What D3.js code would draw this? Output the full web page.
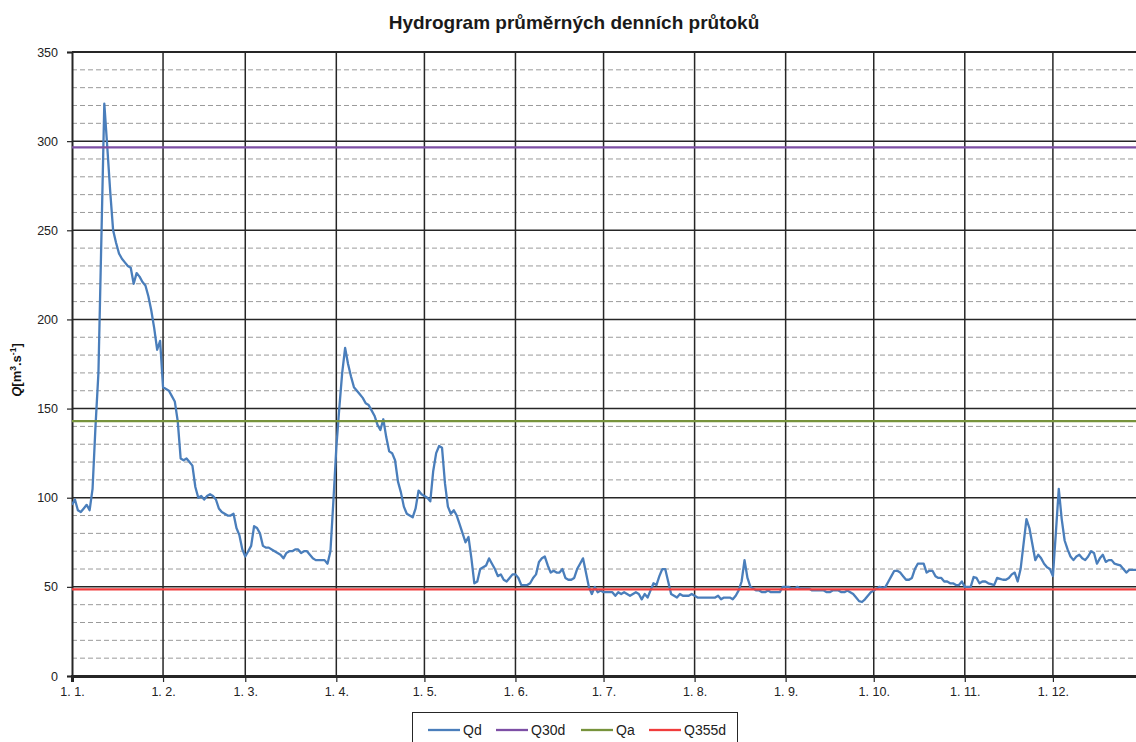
<!DOCTYPE html>
<html><head><meta charset="utf-8">
<script src="https://cdn.jsdelivr.net/npm/d3@7/dist/d3.min.js"></script>
<style>
html,body{margin:0;padding:0;background:#fff;}
svg{display:block;}
</style></head>
<body>
<svg id="chart" width="1136" height="742"></svg>
<script>
// ---- data (daily mean discharge, m3/s, day 0 = 1 Jan) ----
const qdJan = [96,99,93,92,94,96,93,105,140,170,245,321,297,272,250,243,237,234,232,230,229,220,226,224,221,219,213,205,195,183,188];
const qdFeb = [162,161,160,157,154,143,122,121,122,120,118,106,100,101,99,101,102,101,99,94,92,91,90,90,91,83,79,71];
const qdMar = [67,70,73,84,83,80,73,72,72,71,70,69,68,66,69,70,70,71,71,69,70,70,68,66,65,65,65,65,63,70,98];
const qdApr = [128,150,170,184,175,168,162,160,158,156,153,152,149,146,141,138,144,134,126,125,121,109,103,95,91,90,89,94,104,102];
const qdMay = [101,100,98,115,125,129,128,108,95,91,93,90,85,80,75,78,66,52,53,60,61,62,66,63,60,56,57,54,53,55,57];
const qdJun = [57,55,51,51,51,52,55,57,64,66,67,62,58,59,58,58,60,55,54,54,55,60,63,66,58,50,46,50,47,48];
const qdJul = [47,47,47,47,45,47,46,47,46,45,46,47,46,43,46,44,48,52,51,56,60,60,53,46,45,44,46,45,45,45,46];
const qdAug = [45,44,44,44,44,44,44,44,45,43,44,44,44,43,45,48,53,65,55,50,49,48,48,47,47,48,47,47,47,47,50];
const qdSep = [50,50,49,49,50,49,49,49,49,48,48,48,48,48,47,47,48,48,48,47,47,48,47,46,44,42,41.5,43,45,47];
const qdOct = [48,49,50,49.5,50,53,56,59,59,58,56,54,54,55,60,63,63,63,58,59,59,56,55,55,53,53,52,52,51,51,53];
const qdNov = [50,50,50,55.5,55,52,53,53,52,51.5,51,55,54.5,54,54,55,57,58,53,60,74,88,83,74,65,68,66,63,61,60];
const qdDec = [56,80,105,88,76,71,67,65,67,68,66,65,67,70,69,63,66,68,64,65,65,63,62.5,62,60,58,59.5,59.5,59.5,59.5,59.5];

const q30d = 296.5;
const qa = 143;
const q355d = 48.6;

const monthLabels = ["1. 1.","1. 2.","1. 3.","1. 4.","1. 5.","1. 6.","1. 7.","1. 8.","1. 9.","1. 10.","1. 11.","1. 12."];
const monthStartDays = [0,31,59,90,120,151,181,212,243,273,304,334];
const yMajorTicks = [0,50,100,150,200,250,300,350];
const yMinorTicks = d3.range(10, 350, 10).filter(v => v % 50 !== 0);
const seriesNames = ["Qd","Q30d","Qa","Q355d"];
const seriesColors = ["#4A7EBB","#7D4FA5","#77933C","#F03C3C"];

const qd = [].concat(qdJan,qdFeb,qdMar,qdApr,qdMay,qdJun,qdJul,qdAug,qdSep,qdOct,qdNov,qdDec);

// ---- layout ----
const svg = d3.select("#chart");
const pL = 72, pT = 52, pB = 676, pR = 1141;
const x = d3.scaleLinear().domain([0, 364]).range([pL, pR]);
const y = d3.scaleLinear().domain([0, 350]).range([pB, pT]);

svg.append("rect").attr("width",1136).attr("height",742).attr("fill","#fff");

// title
svg.append("text").attr("x",574).attr("y",28.5).attr("text-anchor","middle")
  .attr("font-family","Liberation Sans, Arial, sans-serif").attr("font-weight","bold")
  .attr("font-size","19px").attr("fill","#1a1a1a").text("Hydrogram průměrných denních průtoků");

const g = svg.append("g");

// minor dashed gridlines
g.selectAll("line.minor").data(yMinorTicks).enter().append("line")
  .attr("x1",pL).attr("x2",pR).attr("y1",d=>y(d)).attr("y2",d=>y(d))
  .attr("stroke","#9a9a9a").attr("stroke-width",1).attr("stroke-dasharray","5,3");

// major horizontal gridlines
g.selectAll("line.major").data(yMajorTicks.filter(d=>d>0)).enter().append("line")
  .attr("x1",pL).attr("x2",pR).attr("y1",d=>y(d)).attr("y2",d=>y(d))
  .attr("stroke","#262626").attr("stroke-width",d=>d===350?2.2:1.5);

// vertical month gridlines
g.selectAll("line.vmonth").data(monthStartDays.slice(1)).enter().append("line")
  .attr("x1",d=>x(d)).attr("x2",d=>x(d)).attr("y1",pT).attr("y2",pB)
  .attr("stroke","#262626").attr("stroke-width",1.5);

// y axis
const yAxis = d3.axisLeft(y).tickValues(yMajorTicks).tickSize(5).tickPadding(9).tickFormat(d3.format("d"));
const ya = svg.append("g").attr("transform",`translate(${pL},0)`).call(yAxis);
ya.select(".domain").attr("stroke","#262626").attr("stroke-width",2);
ya.selectAll(".tick line").attr("stroke","#262626").attr("stroke-width",1.2);
ya.selectAll(".tick text").attr("font-family","Liberation Sans, Arial, sans-serif").attr("font-size","12.5px").attr("fill","#222");

// x axis
const xAxis = d3.axisBottom(x).tickValues(monthStartDays).tickSize(6).tickPadding(5)
  .tickFormat((d,i)=>monthLabels[i]);
const xa = svg.append("g").attr("transform",`translate(0,${pB})`).call(xAxis);
xa.select(".domain").attr("stroke","#262626").attr("stroke-width",3);
xa.selectAll(".tick line").attr("stroke","#262626").attr("stroke-width",1.2);
xa.selectAll(".tick text").attr("font-family","Liberation Sans, Arial, sans-serif").attr("font-size","12.5px").attr("fill","#222");

// y label
const yl = svg.append("text").attr("transform","translate(21,370) rotate(-90)")
  .attr("text-anchor","middle").attr("font-family","Liberation Sans, Arial, sans-serif")
  .attr("font-weight","bold").attr("font-size","13px").attr("fill","#111");
yl.append("tspan").attr("font-style","italic").text("Q");
yl.append("tspan").text("[m");
yl.append("tspan").attr("font-size","8.5px").attr("dy","-5").text("3");
yl.append("tspan").attr("dy","5").text(".s");
yl.append("tspan").attr("font-size","8.5px").attr("dy","-5").text("-1");
yl.append("tspan").attr("dy","5").text("]");

// clip
svg.append("clipPath").attr("id","plotclip").append("rect")
  .attr("x",pL).attr("y",pT-5).attr("width",pR-pL).attr("height",pB-pT+5);

const plot = svg.append("g").attr("clip-path","url(#plotclip)");
const line = d3.line().x((d,i)=>x(i)).y(d=>y(d));
plot.append("path").datum(qd).attr("d",line).attr("fill","none")
  .attr("stroke",seriesColors[0]).attr("stroke-width",2.3).attr("stroke-linejoin","round");

[q30d, qa, q355d].forEach((v,k)=>{
  const arr = qd.map(()=>v);
  plot.append("path").datum(arr).attr("d",line).attr("fill","none")
    .attr("stroke",seriesColors[k+1]).attr("stroke-width",2.3);
});

// legend
const lg = svg.append("g");
lg.append("rect").attr("x",412.5).attr("y",712.5).attr("width",325).attr("height",40)
  .attr("fill","#fff").attr("stroke","#262626").attr("stroke-width",1);
const legX = [428, 496, 581, 649];
seriesNames.forEach((n,i)=>{
  lg.append("line").attr("x1",legX[i]).attr("x2",legX[i]+32).attr("y1",730).attr("y2",730)
    .attr("stroke",seriesColors[i]).attr("stroke-width",2.3);
  lg.append("text").attr("x",legX[i]+35).attr("y",735).attr("font-family","Liberation Sans, Arial, sans-serif")
    .attr("font-size","14px").attr("fill","#222").text(n);
});
</script>
</body></html>
